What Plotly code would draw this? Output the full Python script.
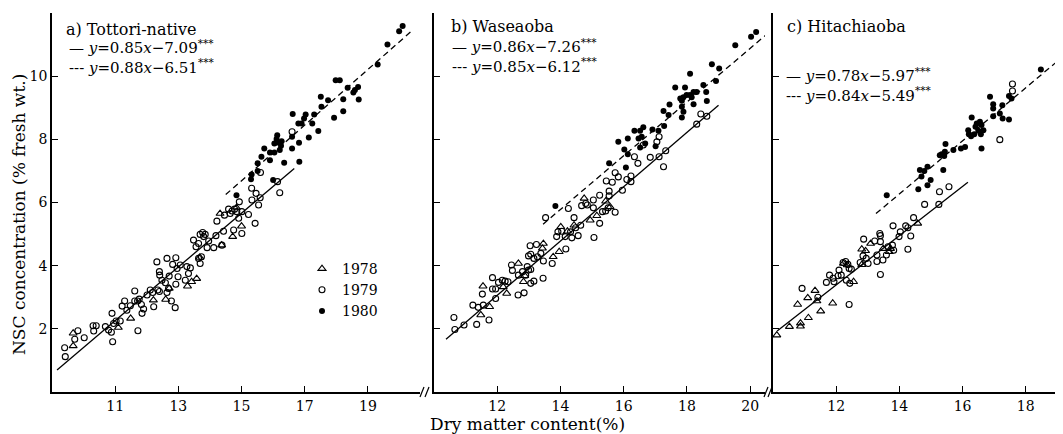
import plotly.graph_objects as go

SERIF = "DejaVu Serif"

# ---- data: dry matter content (%) vs NSC (% fresh wt.) ----
YEARS = ["1978", "1979", "1980"]
PANEL_TITLES = ["a) Tottori-native", "b) Waseaoba", "c) Hitachiaoba"]

# a) Tottori-native
TOTTORI_1978_DM = [9.67, 9.67, 11.10, 11.49, 12.21, 12.60, 12.71, 13.29, 13.42, 13.58, 13.68,
                   14.32, 14.37, 14.72, 15.00, 14.84]
TOTTORI_1978_NSC = [1.86, 1.46, 2.04, 2.33, 2.91, 2.93, 3.28, 3.35, 3.49, 3.59, 4.26,
                    5.65, 4.65, 4.92, 5.25, 5.84]
TOTTORI_1979_DM = [9.40, 9.42, 9.82, 9.72, 10.02, 10.30, 10.32, 10.40, 10.69, 10.79, 10.88, 10.92,
                   10.90, 10.95, 11.03, 11.16, 11.22, 11.30, 11.37, 11.48, 11.62, 11.71, 11.76, 11.62,
                   11.83, 11.90, 11.85, 11.72, 12.01, 12.11, 12.19, 12.35, 12.40, 12.22, 12.64, 12.69,
                   12.78, 12.90, 12.32, 12.40, 12.41, 12.48, 12.59, 12.71, 12.82, 12.92, 12.96, 12.99,
                   12.92, 13.06, 12.64, 13.27, 13.32, 13.38, 13.22, 13.48, 13.56, 13.64, 13.69, 13.77,
                   13.80, 13.85, 13.91, 13.96, 14.12, 14.19, 14.38, 14.43, 13.64, 13.69, 13.73, 14.22,
                   14.46, 14.59, 14.64, 14.70, 14.78, 14.85, 15.01, 15.22, 14.75, 15.01, 14.91, 15.33,
                   15.43, 15.54, 15.59, 14.93, 16.60, 15.60, 15.32, 15.46, 16.14, 16.21]
TOTTORI_1979_NSC = [1.40, 1.12, 1.94, 1.67, 1.72, 2.10, 1.93, 2.10, 2.07, 1.96, 1.89, 1.59,
                    2.49, 2.17, 2.25, 2.25, 2.72, 2.88, 2.59, 2.73, 2.88, 2.88, 2.94, 3.20,
                    2.77, 2.63, 2.49, 1.94, 3.07, 3.23, 3.15, 3.23, 3.18, 2.70, 3.15, 3.28,
                    2.88, 2.67, 4.12, 3.81, 3.70, 3.54, 3.46, 3.67, 4.04, 4.25, 3.91, 3.65,
                    3.41, 4.02, 4.23, 3.97, 3.75, 3.93, 3.54, 4.81, 4.60, 4.70, 4.99, 5.05,
                    4.92, 4.99, 4.57, 4.78, 4.57, 4.95, 4.65, 5.09, 4.23, 4.07, 4.28, 5.41,
                    5.60, 5.79, 5.65, 5.73, 5.79, 5.71, 5.71, 5.62, 5.13, 5.02, 5.50, 6.08,
                    5.34, 5.92, 6.15, 6.02, 8.24, 6.95, 6.45, 6.29, 6.66, 6.31]
TOTTORI_1980_DM = [20.10, 19.99, 19.62, 19.31, 17.98, 18.11, 18.36, 18.69, 18.59, 18.54, 18.71, 17.51,
                   17.74, 17.53, 18.22, 18.22, 17.93, 17.30, 17.03, 16.62, 16.80, 16.90, 16.98, 17.24,
                   17.13, 17.43, 16.13, 16.11, 16.14, 16.04, 16.27, 16.25, 16.21, 15.90, 16.04, 15.72,
                   15.63, 15.90, 15.51, 16.35, 16.60, 16.60, 16.82, 16.83, 15.32, 15.51, 15.30, 16.00,
                   14.84]
TOTTORI_1980_NSC = [11.59, 11.42, 11.00, 10.37, 9.87, 9.87, 9.63, 9.66, 9.56, 9.48, 9.26, 9.35,
                    9.24, 9.03, 9.27, 8.89, 8.68, 8.79, 8.79, 8.80, 8.50, 8.50, 8.66, 8.50,
                    8.06, 8.26, 8.13, 8.01, 7.90, 7.87, 7.94, 7.80, 7.66, 7.58, 7.58, 7.71,
                    7.45, 7.34, 7.24, 7.26, 8.08, 7.71, 7.89, 7.29, 6.89, 7.00, 6.74, 6.71,
                    6.23]

# b) Waseaoba
WASEAOBA_1978_DM = [11.55, 11.48, 11.76, 12.19, 12.30, 12.67, 12.83, 12.87, 13.46, 13.43, 13.77,
                    13.96, 14.01, 14.22, 14.43, 14.94, 15.15, 14.75, 15.43, 15.57]
WASEAOBA_1978_NSC = [3.35, 2.44, 2.70, 3.33, 3.12, 4.07, 3.49, 3.68, 4.70, 4.55, 4.28,
                     4.44, 5.23, 5.09, 5.28, 5.44, 5.58, 6.13, 6.04, 5.86]
WASEAOBA_1979_DM = [10.63, 10.66, 10.95, 11.35, 11.23, 11.40, 11.56, 11.53, 11.85, 11.85, 11.95, 11.95,
                    11.74, 12.04, 12.16, 12.25, 12.34, 12.45, 12.48, 12.67, 12.80, 12.95, 12.99, 13.06,
                    12.90, 12.66, 12.85, 13.06, 13.16, 13.45, 13.04, 13.24, 12.99, 13.06, 13.16, 13.27,
                    13.38, 13.46, 13.53, 13.74, 13.88, 13.92, 14.04, 14.15, 14.17, 14.25, 14.32, 14.36,
                    14.43, 14.48, 14.56, 14.64, 14.67, 14.80, 14.85, 15.04, 15.06, 15.04, 15.24, 15.24,
                    15.33, 15.43, 15.51, 15.54, 15.54, 15.45, 15.64, 15.73, 15.83, 15.96, 15.73, 16.10,
                    16.23, 16.23, 16.34, 16.45, 16.62, 16.84, 17.12, 17.33, 17.26, 17.12, 17.05, 18.31,
                    18.44, 18.63]
WASEAOBA_1979_NSC = [2.36, 1.98, 2.12, 2.14, 2.75, 2.68, 2.75, 3.10, 3.62, 3.26, 3.26, 2.96,
                     2.28, 3.47, 3.54, 3.51, 3.49, 4.02, 3.85, 3.70, 3.81, 3.97, 3.86, 3.88,
                     3.70, 3.07, 3.14, 3.44, 3.51, 3.60, 4.63, 4.67, 4.31, 4.36, 4.23, 4.28,
                     4.39, 4.15, 5.52, 4.07, 4.92, 5.07, 5.09, 4.92, 4.53, 5.81, 5.07, 4.88,
                     5.52, 5.20, 4.95, 5.28, 5.90, 5.97, 5.92, 5.83, 4.89, 6.08, 6.23, 5.34,
                     5.71, 5.73, 5.83, 6.21, 6.36, 6.68, 6.64, 5.69, 6.81, 6.39, 6.94, 6.73,
                     6.84, 6.66, 7.45, 7.24, 7.82, 7.43, 7.45, 7.64, 7.13, 8.08, 7.92, 8.48,
                     8.80, 8.73]
WASEAOBA_1980_DM = [20.19, 20.03, 19.53, 18.79, 19.02, 18.92, 18.10, 18.52, 18.61, 18.63, 18.21, 18.31,
                    18.10, 17.99, 17.89, 17.79, 17.84, 17.94, 17.63, 18.15, 17.45, 17.84, 17.89, 18.21,
                    17.26, 17.42, 17.84, 17.28, 16.91, 17.10, 16.62, 16.52, 16.34, 16.47, 16.57, 16.68,
                    16.52, 17.01, 16.13, 15.83, 16.02, 16.13, 16.07, 15.54, 13.84]
WASEAOBA_1980_NSC = [11.40, 11.25, 10.98, 10.38, 10.24, 9.85, 10.08, 9.72, 9.50, 9.21, 9.50, 9.50,
                     9.40, 9.40, 9.33, 9.29, 9.22, 9.64, 9.64, 9.33, 9.10, 9.03, 8.87, 9.11,
                     8.90, 8.77, 8.69, 8.42, 8.31, 8.27, 8.38, 8.27, 8.27, 8.03, 8.08, 7.87,
                     7.74, 7.78, 8.03, 7.92, 7.68, 7.53, 7.11, 7.24, 5.89]

# c) Hitachiaoba
HITACHIAOBA_1978_DM = [10.12, 10.52, 10.87, 10.87, 11.12, 10.78, 11.10, 11.33, 11.39, 11.51, 11.89,
                       12.23, 12.35, 12.55, 12.81, 12.81, 12.93, 13.09, 13.49, 13.68, 13.72, 14.58]
HITACHIAOBA_1978_NSC = [1.80, 2.07, 2.08, 2.18, 2.35, 2.77, 2.98, 3.21, 2.88, 2.56, 2.81,
                        4.07, 4.02, 3.49, 4.03, 4.52, 4.47, 4.70, 4.54, 4.44, 4.54, 5.34]
HITACHIAOBA_1979_DM = [10.92, 11.42, 11.69, 11.79, 11.90, 11.93, 12.09, 12.06, 12.16, 12.22, 12.30, 12.37,
                       12.41, 12.32, 12.43, 12.48, 12.41, 12.76, 12.87, 12.85, 13.01, 12.95, 13.22, 13.29,
                       13.29, 13.38, 13.40, 13.40, 13.48, 13.40, 13.59, 13.64, 13.78, 13.80, 13.82, 13.99,
                       14.03, 14.20, 14.27, 14.27, 14.36, 14.45, 14.80, 15.25, 15.27, 15.57, 17.18, 17.58,
                       17.58]
HITACHIAOBA_1979_NSC = [3.28, 3.00, 3.47, 3.70, 3.60, 3.49, 3.86, 3.68, 3.70, 4.10, 4.13, 4.04,
                        3.91, 3.54, 3.44, 3.89, 2.77, 4.10, 4.84, 4.31, 4.07, 4.23, 4.78, 4.13,
                        4.34, 5.02, 4.95, 4.76, 4.18, 3.72, 4.34, 4.60, 4.65, 5.26, 4.49, 4.92,
                        5.07, 5.26, 5.20, 4.52, 4.94, 5.52, 5.94, 5.94, 6.34, 6.50, 7.99, 9.75,
                        9.53]
HITACHIAOBA_1980_DM = [18.48, 16.87, 16.97, 16.97, 17.26, 17.47, 17.55, 17.18, 17.27, 17.47, 16.97, 16.29,
                       16.55, 16.45, 16.41, 16.60, 16.50, 16.66, 16.18, 16.20, 16.27, 16.37, 16.58, 16.08,
                       15.95, 15.71, 15.46, 15.44, 15.34, 15.28, 15.42, 16.60, 15.39, 14.89, 14.79, 14.65,
                       14.70, 14.99, 14.89, 14.60, 13.60]
HITACHIAOBA_1980_NSC = [10.21, 9.35, 9.11, 8.98, 9.08, 9.37, 9.29, 8.82, 8.66, 8.63, 8.73, 8.69,
                        8.56, 8.50, 8.40, 8.45, 8.27, 8.29, 8.29, 8.16, 8.10, 8.16, 8.16, 7.76,
                        7.71, 7.66, 7.85, 7.61, 7.53, 7.50, 7.47, 7.71, 7.03, 7.13, 7.00, 7.03,
                        6.82, 6.71, 6.55, 6.42, 6.23]

# regressions: solid = 1978+1979, dashed = 1980
SOLID_SLOPE = [0.85, 0.86, 0.78]
SOLID_INTERCEPT = [-7.09, -7.26, -5.97]
SOLID_X_FROM = [9.16, 10.38, 10.13]
SOLID_X_TO = [16.67, 19.0, 16.17]
DASHED_SLOPE = [0.88, 0.85, 0.84]
DASHED_INTERCEPT = [-6.51, -6.12, -5.49]
DASHED_X_FROM = [14.5, 13.45, 13.26]
DASHED_X_TO = [20.4, 20.5, 19.0]

X_RANGES = [[9, 20.65], [10, 20.47], [10, 19.18]]
X_TICKS = [[11, 13, 15, 17, 19], [12, 14, 16, 18, 20], [12, 14, 16, 18]]
Y_TICKS = [2, 4, 6, 8, 10, 12]
Y_TICK_TEXT = ["2", "4", "6", "8", "10", ""]

SERIES = [
    [(TOTTORI_1978_DM, TOTTORI_1978_NSC), (TOTTORI_1979_DM, TOTTORI_1979_NSC), (TOTTORI_1980_DM, TOTTORI_1980_NSC)],
    [(WASEAOBA_1978_DM, WASEAOBA_1978_NSC), (WASEAOBA_1979_DM, WASEAOBA_1979_NSC), (WASEAOBA_1980_DM, WASEAOBA_1980_NSC)],
    [(HITACHIAOBA_1978_DM, HITACHIAOBA_1978_NSC), (HITACHIAOBA_1979_DM, HITACHIAOBA_1979_NSC), (HITACHIAOBA_1980_DM, HITACHIAOBA_1980_NSC)],
]
MARKERS = [
    dict(symbol="triangle-up-open", size=7, color="black", line=dict(width=1.1, color="black")),
    dict(symbol="circle-open", size=6, color="black", line=dict(width=1.1, color="black")),
    dict(symbol="circle", size=6, color="black"),
]

# page geometry: the page body adds an 8px margin, so the figure is sized to end at the window edge
PAGE_OFF = 8
L, T, W, H = 52, 13, 1011, 379   # plot area in window pixels


def pxx(p):
    return (p - L) / W


def pxy(p):
    return (T + H - p) / H


DOMAINS = [[0, pxx(420)], [pxx(434), pxx(765)], [pxx(773), 1.0]]

fig = go.Figure()
for i in range(3):
    xa = "x" if i == 0 else f"x{i + 1}"
    ya = "y" if i == 0 else f"y{i + 1}"
    for j, (xs, ys) in enumerate(SERIES[i]):
        fig.add_trace(go.Scatter(
            x=xs, y=ys, mode="markers", name=YEARS[j], marker=MARKERS[j],
            xaxis=xa, yaxis=ya, showlegend=(i == 0), cliponaxis=False,
        ))
    # fitted lines
    sx = [SOLID_X_FROM[i], SOLID_X_TO[i]]
    fig.add_trace(go.Scatter(
        x=sx, y=[SOLID_SLOPE[i] * v + SOLID_INTERCEPT[i] for v in sx],
        mode="lines", line=dict(color="black", width=1.3),
        xaxis=xa, yaxis=ya, showlegend=False,
    ))
    dx = [DASHED_X_FROM[i], DASHED_X_TO[i]]
    fig.add_trace(go.Scatter(
        x=dx, y=[DASHED_SLOPE[i] * v + DASHED_INTERCEPT[i] for v in dx],
        mode="lines", line=dict(color="black", width=1.3, dash="6px,4px"),
        xaxis=xa, yaxis=ya, showlegend=False,
    ))

fig_w, fig_h = 1063 - PAGE_OFF, 434 - PAGE_OFF
axis_font = dict(family=SERIF, size=14, color="black")
layout = dict(
    width=fig_w, height=fig_h,
    margin=dict(l=L - PAGE_OFF, r=0, t=T - PAGE_OFF, b=fig_h - (T - PAGE_OFF) - H),
    paper_bgcolor="white", plot_bgcolor="white",
    font=dict(family=SERIF, color="black"),
    legend=dict(x=pxx(302), y=pxy(253), xanchor="left", yanchor="top",
                font=dict(family=SERIF, size=14, color="black"),
                bgcolor="rgba(0,0,0,0)", itemwidth=30, tracegroupgap=0),
)
for i in range(3):
    xkey = "xaxis" if i == 0 else f"xaxis{i + 1}"
    ykey = "yaxis" if i == 0 else f"yaxis{i + 1}"
    layout[xkey] = dict(
        domain=DOMAINS[i], range=X_RANGES[i], tickvals=X_TICKS[i], anchor="y" if i == 0 else f"y{i + 1}",
        showline=True, linecolor="black", linewidth=1.8, ticks="inside", ticklen=6,
        tickwidth=1.2, tickcolor="black", showgrid=False, zeroline=False, tickfont=axis_font,
    )
    layout[ykey] = dict(
        domain=[0, 1], range=[0, 12], tickvals=Y_TICKS, ticktext=Y_TICK_TEXT,
        anchor="x" if i == 0 else f"x{i + 1}", showticklabels=(i == 0),
        showline=True, linecolor="black", linewidth=1.8, ticks="inside", ticklen=6,
        tickwidth=1.2, tickcolor="black", showgrid=False, zeroline=False, tickfont=axis_font,
    )
fig.update_layout(**layout)

# panel titles and regression equations (both equations in one text block)
eq_font = dict(family=SERIF, size=15, color="black")
EQ_TEXT = [
    f"— <i>y</i>={SOLID_SLOPE[i]:.2f}<i>x</i>−{-SOLID_INTERCEPT[i]:.2f}<sup>***</sup><br>"
    f"--- <i>y</i>={DASHED_SLOPE[i]:.2f}<i>x</i>−{-DASHED_INTERCEPT[i]:.2f}<sup>***</sup>"
    for i in range(3)
]
TITLE_POS = [(64, 29), (449, 27), (785, 27)]
EQ_POS = [(67, 57), (450, 56), (784, 85)]
for i in range(3):
    fig.add_annotation(x=pxx(TITLE_POS[i][0]), y=pxy(TITLE_POS[i][1]), xref="paper", yref="paper",
                       text=PANEL_TITLES[i], showarrow=False, xanchor="left", yanchor="middle",
                       font=dict(family=SERIF, size=16, color="black"))
    fig.add_annotation(x=pxx(EQ_POS[i][0]), y=pxy(EQ_POS[i][1]), xref="paper", yref="paper",
                       text=EQ_TEXT[i], showarrow=False, xanchor="left", yanchor="middle",
                       align="left", font=eq_font)

# axis titles
fig.add_annotation(x=pxx(527), y=pxy(424), xref="paper", yref="paper", text="Dry matter content(%)",
                   showarrow=False, xanchor="center", yanchor="middle",
                   font=dict(family=SERIF, size=17, color="black"))
fig.add_annotation(x=pxx(19), y=pxy(215), xref="paper", yref="paper", text="NSC concentration (% fresh wt.)",
                   showarrow=False, textangle=-90, xanchor="center", yanchor="middle",
                   font=dict(family=SERIF, size=17, color="black"))

# axis break marks between panels
for bx in (422, 427, 766, 770):
    fig.add_shape(type="line", xref="paper", yref="paper",
                  x0=pxx(bx - 2), y0=pxy(397), x1=pxx(bx + 2), y1=pxy(387),
                  line=dict(color="black", width=1.2))

fig.write_html("out.html")
